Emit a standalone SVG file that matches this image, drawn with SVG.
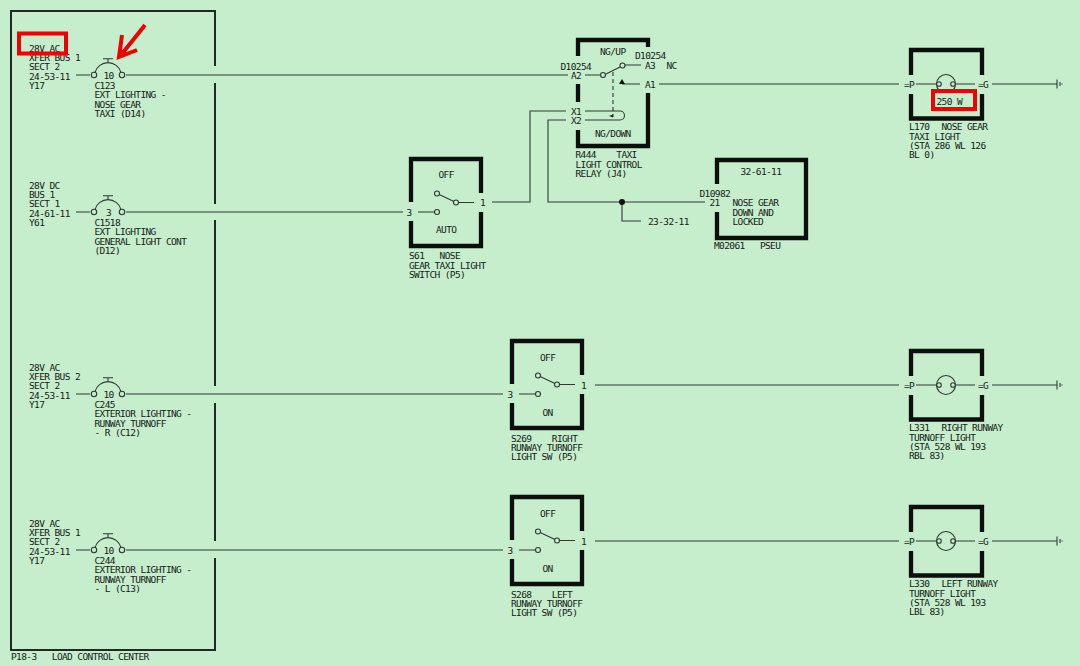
<svg xmlns="http://www.w3.org/2000/svg" width="1080" height="666" viewBox="0 0 1080 666">
<style>
text{font-family:"DejaVu Sans Mono","Liberation Mono",monospace;font-size:9.5px;letter-spacing:-.62px;fill:#151c17;white-space:pre}
.w{fill:none;stroke:#2f3a33;stroke-width:1.1}
.f{fill:none;stroke:#1f2a22;stroke-width:2}
.b{fill:none;stroke:#0c0f0c;stroke-width:4.300}
.c{fill:#c6edcc;stroke:#2f3a33;stroke-width:1.1}
.r{fill:none;stroke:#f00000;stroke-width:4}
</style>
<defs>
<g id="breaker">
<path class="w" d="M95 72.500A13.500 13.500 0 0 1 121 72.500M108 62V59M103 58.800H113"/>
<circle class="c" cx="94" cy="75" r="2.700"/><circle class="c" cx="122" cy="75" r="2.700"/>
</g>
<g id="switch">
<path class="b" d="M0 43V0H70V34M70 53V87H0V62"/>
<path class="w" d="M7 53H23.500M26 34.500L44 43M47.500 43.500H63"/>
<circle class="c" cx="26" cy="34.500" r="2.500"/><circle class="c" cx="26" cy="53" r="2.500"/><circle class="c" cx="45" cy="43.500" r="2.500"/>
</g>
<g id="lamp">
<path class="b" d="M0 25V0H71V25M0 44V68.500H71V44"/>
<path class="w" d="M5 34H25.700M44.300 34H64"/>
<circle class="w" cx="35" cy="34" r="9.500"/>
<circle class="c" cx="28" cy="34" r="2.300"/><circle class="c" cx="42" cy="34" r="2.300"/>
</g>
<g id="ground">
<path class="w" d="M0 -4.500V4.500M3 -2V2M5 -.6V.6"/>
</g>
</defs>
<rect width="1080" height="666" fill="#c6edcc"/>

<g id="connectors">
<path class="w" d="M76 75H90M126 75H568"/>
<path class="w" d="M76 212H90M126 212H403"/>
<path class="w" d="M76 394H90M126 394H503"/>
<path class="w" d="M76 550H90M126 550H503"/>
<path class="w" d="M492 202H530V111H566M566 120H548V202H705M622 202V221H641"/>
<circle cx="622" cy="202" r="3" fill="#111"/>
<path class="w" d="M659 84H899M992 84H1057"/>
<path class="w" d="M595 385H899M992 385H1057"/>
<path class="w" d="M595 541H899M992 541H1057"/>
</g>

<g id="frame">
<path class="f" d="M215 66V11H11V650H215V558M215 83V204M215 220V386M215 403V541"/>
<text x="11" y="660">P18-3   LOAD CONTROL CENTER</text>
</g>

<g id="c123">
<use href="#breaker"/>
<text x="29" y="51.500">28V AC</text><text x="29" y="61">XFER BUS 1</text><text x="29" y="70.300">SECT 2</text><text x="29" y="79.600">24-53-11</text><text x="29" y="89">Y17</text>
<text x="103.500" y="78.500">10</text>
<text x="94.500" y="88.500">C123</text><text x="94.500" y="98">EXT LIGHTING -</text><text x="94.500" y="107.500">NOSE GEAR</text><text x="94.500" y="116.500">TAXI (D14)</text>
</g>
<g id="c1518" transform="translate(0 137)">
<use href="#breaker"/>
<text x="29" y="51.500">28V DC</text><text x="29" y="61">BUS 1</text><text x="29" y="70.300">SECT 1</text><text x="29" y="79.600">24-61-11</text><text x="29" y="89">Y61</text>
<text x="106" y="78.500">3</text>
<text x="94.500" y="88.500">C1518</text><text x="94.500" y="98">EXT LIGHTING</text><text x="94.500" y="107.500">GENERAL LIGHT CONT</text><text x="94.500" y="116.500">(D12)</text>
</g>
<g id="c245" transform="translate(0 319)">
<use href="#breaker"/>
<text x="29" y="51.500">28V AC</text><text x="29" y="61">XFER BUS 2</text><text x="29" y="70.300">SECT 2</text><text x="29" y="79.600">24-53-11</text><text x="29" y="89">Y17</text>
<text x="103.500" y="78.500">10</text>
<text x="94.500" y="88.500">C245</text><text x="94.500" y="98">EXTERIOR LIGHTING -</text><text x="94.500" y="107.500">RUNWAY TURNOFF</text><text x="94.500" y="116.500">- R (C12)</text>
</g>
<g id="c244" transform="translate(0 475)">
<use href="#breaker"/>
<text x="29" y="51.500">28V AC</text><text x="29" y="61">XFER BUS 1</text><text x="29" y="70.300">SECT 2</text><text x="29" y="79.600">24-53-11</text><text x="29" y="89">Y17</text>
<text x="103.500" y="78.500">10</text>
<text x="94.500" y="88.500">C244</text><text x="94.500" y="98">EXTERIOR LIGHTING -</text><text x="94.500" y="107.500">RUNWAY TURNOFF</text><text x="94.500" y="116.500">- L (C13)</text>
</g>

<g id="s61" transform="translate(411 159)">
<use href="#switch"/>
<text x="27.500" y="19">OFF</text><text x="25" y="74">AUTO</text>
<text x="-4.500" y="56.500">3</text><text x="69" y="47">1</text>
<text x="-2" y="100">S61   NOSE</text><text x="-2" y="109.500">GEAR TAXI LIGHT</text><text x="-2" y="118.500">SWITCH (P5)</text>
</g>
<g id="s269" transform="translate(512 341)">
<use href="#switch"/>
<text x="28" y="20">OFF</text><text x="30.500" y="75">ON</text>
<text x="-4.500" y="57">3</text><text x="69" y="48">1</text>
<text x="-1" y="100.500">S269    RIGHT</text><text x="-1" y="110">RUNWAY TURNOFF</text><text x="-1" y="119">LIGHT SW (P5)</text>
</g>
<g id="s268" transform="translate(512 497)">
<use href="#switch"/>
<text x="28" y="20">OFF</text><text x="30.500" y="75">ON</text>
<text x="-4.500" y="57">3</text><text x="69" y="48">1</text>
<text x="-1" y="100.500">S268    LEFT</text><text x="-1" y="110">RUNWAY TURNOFF</text><text x="-1" y="119">LIGHT SW (P5)</text>
</g>

<g id="r444">
<path class="b" d="M578 56V40H648V47M648 93V146H578V130M578 84V102"/>
<path class="w" d="M585 75H601M606 74L620 67M625 65H641M622 84H640M585 111H620A4.500 4.500 0 0 1 620 120H585"/>
<path class="w" d="M613 72V117" stroke-dasharray="4 3"/>
<path d="M609 116L613 114.500V117.500Z" fill="#222"/>
<path d="M622 79L625 84H619Z" fill="#111"/>
<circle class="c" cx="603" cy="75" r="2.500"/><circle class="c" cx="622.500" cy="65.500" r="2.500"/>
<text x="600" y="55">NG/UP</text><text x="635" y="59">D10254</text><text x="560.500" y="69.500">D10254</text>
<text x="571" y="78.500">A2</text><text x="645" y="69">A3</text><text x="666.500" y="69">NC</text><text x="645" y="88">A1</text>
<text x="571" y="115">X1</text><text x="571" y="124">X2</text><text x="595" y="137">NG/DOWN</text>
<text x="575.500" y="158">R444    TAXI</text><text x="575.500" y="167.500">LIGHT CONTROL</text><text x="575.500" y="177">RELAY (J4)</text>
</g>

<g id="m02061">
<path class="b" d="M717 184V160H806V238H717V212"/>
<text x="740.500" y="175">32-61-11</text><text x="699.500" y="197">D10982</text><text x="709.500" y="206">21</text>
<text x="732.500" y="206">NOSE GEAR</text><text x="732.500" y="215.500">DOWN AND</text><text x="732.500" y="225">LOCKED</text>
<text x="714" y="249">M02061   PSEU</text>
<text x="648" y="224.500">23-32-11</text>
</g>

<g id="l170" transform="translate(911 50)">
<use href="#lamp"/><use href="#ground" x="146" y="34"/>
<text x="-7" y="38">=P</text><text x="67" y="38">=G</text>
<text x="-2" y="80">L170<tspan x="30.500">NOSE GEAR</tspan></text><text x="-2" y="89.500">TAXI LIGHT</text><text x="-2" y="99">(STA 286 WL 126</text><text x="-2" y="108">BL 0)</text>
</g>
<g id="l331" transform="translate(911 351)">
<use href="#lamp"/><use href="#ground" x="146" y="34"/>
<text x="-7" y="38">=P</text><text x="67" y="38">=G</text>
<text x="-2" y="80">L331<tspan x="30.500">RIGHT RUNWAY</tspan></text><text x="-2" y="89.500">TURNOFF LIGHT</text><text x="-2" y="99">(STA 528 WL 193</text><text x="-2" y="108">RBL 83)</text>
</g>
<g id="l330" transform="translate(911 507)">
<use href="#lamp"/><use href="#ground" x="146" y="34"/>
<text x="-7" y="38">=P</text><text x="67" y="38">=G</text>
<text x="-2" y="80">L330<tspan x="30.500">LEFT RUNWAY</tspan></text><text x="-2" y="89.500">TURNOFF LIGHT</text><text x="-2" y="99">(STA 528 WL 193</text><text x="-2" y="108">LBL 83)</text>
</g>

<g id="annotations">
<rect class="r" x="19" y="33.500" width="47" height="20"/>
<rect class="r" x="933" y="91" width="42" height="18" style="fill:#c6edcc"/>
<text x="936.500" y="105">250 W</text>
<path class="r" d="M145 25L121 55M122 35L119 57L137 50"/>
</g>
</svg>
